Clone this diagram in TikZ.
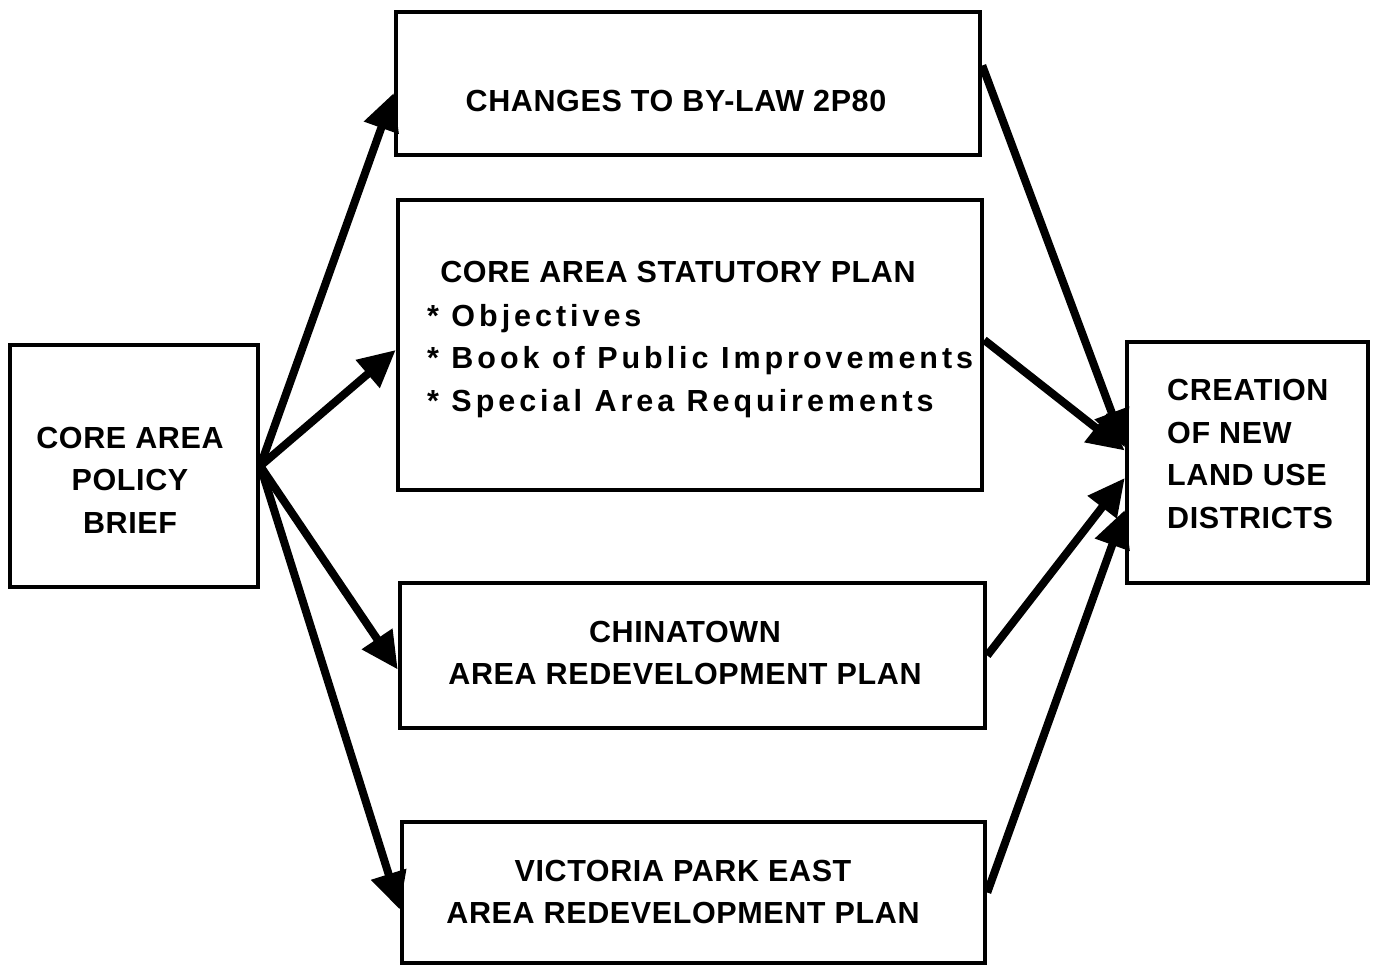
\documentclass[tikz,border=0pt]{standalone}
\usepackage{fontspec}
\setmainfont{Liberation Sans}
\newfontfamily\boxfont{Liberation Sans}[LetterSpace=2]
\newfontfamily\listfont{Liberation Sans}[LetterSpace=13]
\usetikzlibrary{arrows.meta}
\begin{document}
\begin{tikzpicture}[x=1pt,y=-1pt,
  box/.style={draw, line width=4.5pt, inner sep=0pt},
  lbl/.style={inner sep=0pt, align=center, font=\boxfont\bfseries\fontsize{30.5}{42.5}\selectfont},
  lst/.style={inner sep=0pt, align=left, font=\listfont\bfseries\fontsize{30.5}{42.5}\selectfont},
  arr/.style={line width=8pt, -{Triangle[length=37pt,width=35pt]}}]
\useasboundingbox (0,0) rectangle (1378,967);

% boxes
\node[box, minimum width=248pt, minimum height=242pt] (L) at (134,466) {};
\node[box, minimum width=584pt, minimum height=143pt] (b1) at (688,83.5) {};
\node[box, minimum width=584pt, minimum height=290pt] (b2) at (690,345) {};
\node[box, minimum width=585pt, minimum height=145pt] (b3) at (692.5,655.5) {};
\node[box, minimum width=583pt, minimum height=141pt] (b4) at (693.5,892.5) {};
\node[box, minimum width=241pt, minimum height=241pt] (R) at (1247.5,462.5) {};

% texts
\node[lbl] (tL) at (130,480) {CORE AREA\\POLICY\\BRIEF};
\node[lbl] (t1) at (676,101) {CHANGES TO BY-LAW 2P80};
\node[lbl] (t2) at (678,272) {CORE AREA STATUTORY PLAN};
\node[lst, anchor=north west] (t2b) at (427,304) {* Objectives\\* Book of Public Improvements\\* Special Area Requirements};
\node[lbl] (t3) at (685,653) {CHINATOWN\\AREA REDEVELOPMENT PLAN};
\node[lbl] (t4) at (683,892) {VICTORIA PARK EAST\\AREA REDEVELOPMENT PLAN};
\node[lbl, align=left, anchor=west] (tR) at (1167,454) {CREATION\\OF NEW\\LAND USE\\DISTRICTS};

% connectors out of the policy brief
\draw[arr] (L.east) -- ([yshift=-9.5pt]b1.west);
\draw[arr] (L.east) -- ([yshift=-5pt]b2.west);
\draw[arr] (L.east) -- ([yshift=-14pt]b3.west);
\draw[arr] (L.east) -- ([yshift=-17pt]b4.west);

% connectors into the new districts
\draw[arr] ([yshift=18pt]b1.east) -- ([yshift=15pt]R.west);
\draw[arr] ([yshift=5pt]b2.east) -- ([yshift=12pt]R.west);
\draw[arr] (b3.east) -- ([yshift=-15.5pt]R.west);
\draw[arr] (b4.east) -- ([yshift=-47.5pt]R.west);
\end{tikzpicture}
\end{document}
